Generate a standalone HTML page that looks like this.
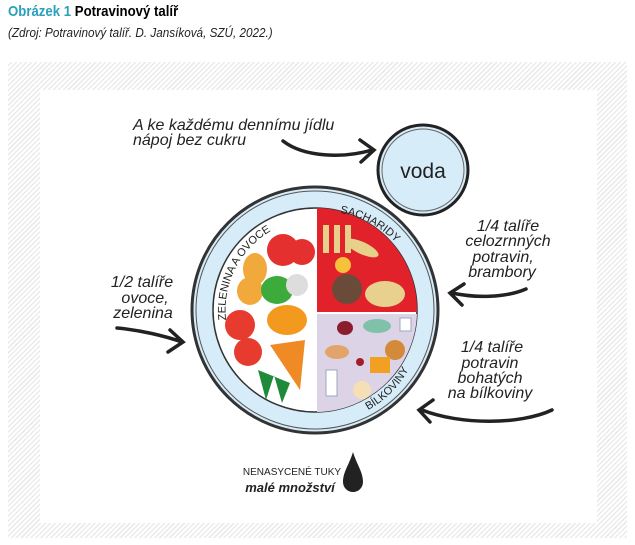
<!DOCTYPE html>
<html><head><meta charset="utf-8"><style>
body{margin:0;width:635px;height:545px;background:#fff;overflow:hidden;font-family:"Liberation Sans",sans-serif}
.t1{position:absolute;left:8px;top:3px;font-size:15px;font-weight:bold;color:#000;transform:scaleX(.88);transform-origin:left}
.t1 span{color:#2aa0bd}
.t2{position:absolute;left:8px;top:25px;font-size:13px;font-style:italic;color:#222;transform:scaleX(.9);transform-origin:left}
.hatch{position:absolute;left:8px;top:62px;width:619px;height:476px;background:repeating-linear-gradient(135deg,#fff 0 2px,#ebebeb 2px 3.5px)}
.inner{position:absolute;left:40px;top:90px;width:557px;height:433px;background:#fff}
svg{position:absolute;left:0;top:0}
.h{font-family:"Liberation Sans",sans-serif;font-style:italic;font-size:16px;fill:#222}
</style></head><body>
<div class="t1"><span>Obrázek 1</span> Potravinový talíř</div>
<div class="t2">(Zdroj: Potravinový talíř. D. Jansíková, SZÚ, 2022.)</div>
<div class="hatch"></div><div class="inner"></div>
<svg width="635" height="545" viewBox="0 0 635 545">
<defs><path id="arcL" d="M226,320 A92,92 0 0 1 300,220"/><path id="arcR" d="M340,213 A98,98 0 0 1 410,262"/><path id="arcB" d="M368,410 A100,100 0 0 0 416,352"/></defs>
<circle cx="315" cy="310" r="123" fill="#d6ecf8" stroke="#333" stroke-width="3"/>
<circle cx="315" cy="310" r="119" fill="none" stroke="#555" stroke-width="1"/>
<circle cx="315" cy="310" r="102" fill="#fff" stroke="#333" stroke-width="1.5"/>
<path d="M317,208 A102,102 0 0 1 417,312 L317,312Z" fill="#e2222a"/>
<path d="M317,314 L417,314 A102,102 0 0 1 317,412Z" fill="#ddd3e6"/>
<circle cx="283" cy="250" r="16" fill="#e53030"/><circle cx="302" cy="252" r="13" fill="#e53030"/>
<ellipse cx="255" cy="269" rx="12" ry="16" fill="#f2a93b"/><ellipse cx="250" cy="291" rx="13" ry="14" fill="#f2a93b"/>
<ellipse cx="277" cy="290" rx="16" ry="14" fill="#3cab3c"/><circle cx="297" cy="285" r="11" fill="#ddd"/>
<circle cx="240" cy="325" r="15" fill="#e63b2e"/><circle cx="248" cy="352" r="14" fill="#e63b2e"/>
<ellipse cx="287" cy="320" rx="20" ry="15" fill="#f39a1e"/>
<path d="M270,345 L305,340 L300,390 Z" fill="#f08a24"/>
<path d="M258,370 l8,30 8,-25 8,28 8,-20z" fill="#1e8a3a"/>
<rect x="323" y="225" width="6" height="28" fill="#e7d08a"/><rect x="334" y="225" width="6" height="28" fill="#e7d08a"/><rect x="345" y="225" width="6" height="28" fill="#e7d08a"/>
<ellipse cx="362" cy="248" rx="18" ry="6" fill="#e7d08a" transform="rotate(25 362 248)"/>
<circle cx="343" cy="265" r="8" fill="#f6c23a"/>
<circle cx="347" cy="289" r="15" fill="#6a4b3a"/>
<ellipse cx="385" cy="294" rx="20" ry="13" fill="#e8d08f"/>
<ellipse cx="345" cy="328" rx="8" ry="7" fill="#8b1e2c"/><ellipse cx="377" cy="326" rx="14" ry="7" fill="#7fc1a9"/>
<rect x="400" y="318" width="11" height="13" fill="#fff" stroke="#9ab"/>
<ellipse cx="337" cy="352" rx="12" ry="7" fill="#e2a46b"/><circle cx="395" cy="350" r="10" fill="#d38a3a"/>
<circle cx="360" cy="362" r="4" fill="#a01e2c"/><rect x="370" y="357" width="20" height="16" fill="#f2a022"/>
<rect x="326" y="370" width="11" height="26" fill="#fff" stroke="#9ab"/><circle cx="362" cy="390" r="9" fill="#f5e0b5"/>
<text font-size="11" fill="#222"><textPath href="#arcL">ZELENINA A OVOCE</textPath></text>
<text font-size="11" fill="#222"><textPath href="#arcR">SACHARIDY</textPath></text>
<text font-size="11" fill="#222"><textPath href="#arcB">BÍLKOVINY</textPath></text>
<circle cx="423" cy="170" r="45" fill="#d6ecf8" stroke="#222" stroke-width="3"/>
<circle cx="423" cy="170" r="41" fill="none" stroke="#666" stroke-width="1"/>
<text x="423" y="178" font-size="21" text-anchor="middle" fill="#222">voda</text>
<text class="h" x="133" y="130">A ke každému dennímu jídlu</text>
<text class="h" x="133" y="145">nápoj bez cukru</text>
<path d="M283,141 C305,158 345,158 372,150 M360,140 L374,150 L361,162" fill="none" stroke="#222" stroke-width="3.5" stroke-linecap="round"/>
<text class="h" x="508" y="231" text-anchor="middle">1/4 talíře</text>
<text class="h" x="508" y="246" text-anchor="middle">celozrnných</text>
<text class="h" x="503" y="262" text-anchor="middle">potravin,</text>
<text class="h" x="502" y="277" text-anchor="middle">brambory</text>
<path d="M526,289 C505,298 475,298 452,293 M464,284 L450,293 L462,305" fill="none" stroke="#222" stroke-width="3.5" stroke-linecap="round"/>
<text class="h" x="492" y="352" text-anchor="middle">1/4 talíře</text>
<text class="h" x="490" y="368" text-anchor="middle">potravin</text>
<text class="h" x="490" y="383" text-anchor="middle">bohatých</text>
<text class="h" x="490" y="398" text-anchor="middle">na bílkoviny</text>
<path d="M552,410 C520,425 460,425 422,410 M433,400 L419,410 L430,422" fill="none" stroke="#222" stroke-width="3.5" stroke-linecap="round"/>
<text class="h" x="142" y="287" text-anchor="middle">1/2 talíře</text>
<text class="h" x="145" y="303" text-anchor="middle">ovoce,</text>
<text class="h" x="143" y="318" text-anchor="middle">zelenina</text>
<path d="M117,328 C140,330 165,336 182,342 M170,330 L183,342 L168,352" fill="none" stroke="#222" stroke-width="3.5" stroke-linecap="round"/>
<text x="292" y="475" font-size="10" text-anchor="middle" fill="#222">NENASYCENÉ TUKY</text>
<text x="290" y="492" font-size="13" font-style="italic" font-weight="bold" text-anchor="middle" fill="#222">malé množství</text>
<path d="M353,452 C349,465 343,472 343,482 A10,10 0 0 0 363,482 C363,472 357,465 353,452Z" fill="#222"/>
</svg>
</body></html>
